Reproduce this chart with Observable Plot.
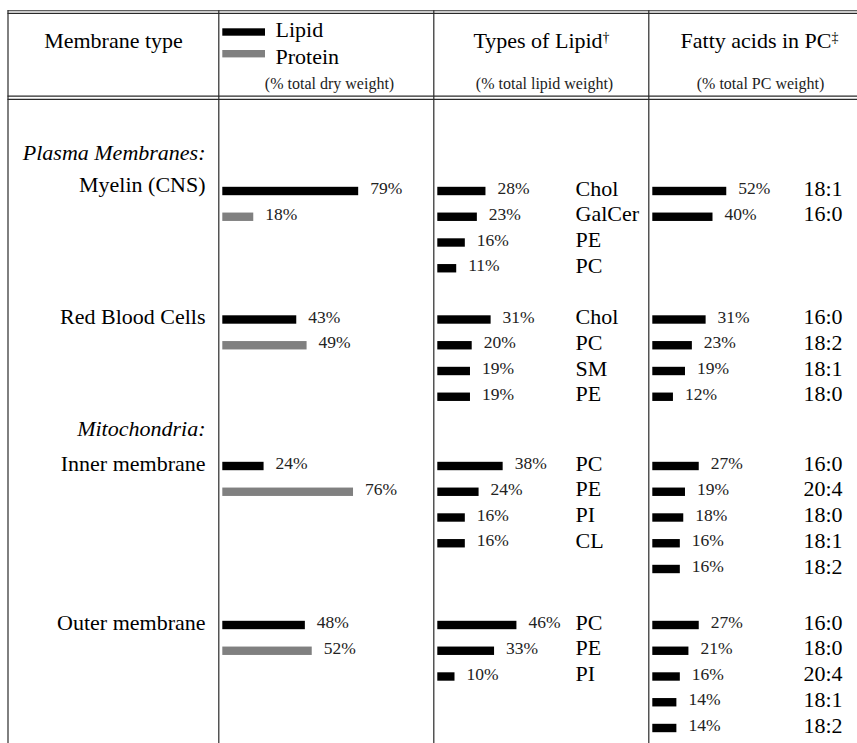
<!DOCTYPE html>
<html><head><meta charset="utf-8">
<script src="https://cdn.jsdelivr.net/npm/d3@7"></script>
<script src="https://cdn.jsdelivr.net/npm/@observablehq/plot@0.6"></script>
<style>html,body{margin:0;padding:0;background:#fff;} svg{display:block} svg text{font-family:"Liberation Serif","Times New Roman",serif !important;}</style>
</head><body><div id="chart"></div>
<script>
// ---------------- data ----------------
const membranes = ["Myelin (CNS)", "Red Blood Cells", "Inner membrane", "Outer membrane"];
const sectionTitles = ["Plasma Membranes:", "Mitochondria:"];
const sectionStartsAt = [0, 2];
const lipidPct = [79, 43, 24, 48];
const proteinPct = [18, 49, 76, 52];
const lipidTypeNames = [["Chol", "GalCer", "PE", "PC"], ["Chol", "PC", "SM", "PE"], ["PC", "PE", "PI", "CL"], ["PC", "PE", "PI"]];
const lipidTypePct = [[28, 23, 16, 11], [31, 20, 19, 19], [38, 24, 16, 16], [46, 33, 10]];
const fattyAcidNames = [["18:1", "16:0"], ["16:0", "18:2", "18:1", "18:0"], ["16:0", "20:4", "18:0", "18:1", "18:2"], ["16:0", "18:0", "20:4", "18:1", "18:2"]];
const fattyAcidPct = [[52, 40], [31, 23, 19, 12], [27, 19, 18, 16, 16], [27, 21, 16, 14, 14]];
// bar lengths as drawn in the picture (myelin bars are drawn shorter than their labels)
const fattyAcidBarPct = [[43, 35], [31, 23, 19, 12], [27, 19, 18, 16, 16], [27, 21, 16, 14, 14]];
const legendNames = ["Lipid", "Protein"];
const headers = ["Membrane type", "Types of Lipid\u2020", "Fatty acids in PC\u2021"];
const captions = ["(% total dry weight)", "(% total lipid weight)", "(% total PC weight)"];

// ---------------- layout ----------------
const W = 857, H = 743, PX = 1.72;          // pixels per percent
const u = p => p / PX;                       // pixel -> x units
const colEdges = [7.5, 218.3, 433.3, 648.3];
const barStart = [colEdges[1] + 4, colEdges[2] + 4, colEdges[3] + 4];
const groupTop = [191, 319.5, 466, 625];
const STEP = 25.75, BH = 8.4, GAP = 11.5, TXT = -3;
const membraneLabelY = [184, 316.5, 463.5, 622];
const sectionY = [152, 428];
const labelRight = 205, lipidNameX = 575, fattyNameX = 803;
const hLines = [10.3, 12.9, 95.6, 98.9];
const BLACK = "#000", GRAY = "#808080", LINE = "#2a2a2a";
const FONT = "Liberation Serif, Times New Roman, serif";

const bars = [], pctLabels = [], names = [];
membranes.forEach((m, k) => {
  [[lipidPct[k], BLACK], [proteinPct[k], GRAY]].forEach(([v, c], i) => {
    const y = groupTop[k] + i * STEP;
    bars.push({x1: u(barStart[0]), x2: u(barStart[0]) + v, y, fill: c});
    pctLabels.push({x: u(barStart[0]) + v, y, t: v + "%"});
  });
  lipidTypePct[k].forEach((v, j) => {
    const y = groupTop[k] + j * STEP;
    bars.push({x1: u(barStart[1]), x2: u(barStart[1]) + v, y, fill: BLACK});
    pctLabels.push({x: u(barStart[1]) + v, y, t: v + "%"});
    names.push({x: u(lipidNameX), y, t: lipidTypeNames[k][j]});
  });
  fattyAcidPct[k].forEach((v, j) => {
    const y = groupTop[k] + j * STEP;
    const len = fattyAcidBarPct[k][j];
    bars.push({x1: u(barStart[2]), x2: u(barStart[2]) + len, y, fill: BLACK});
    pctLabels.push({x: u(barStart[2]) + len, y, t: v + "%"});
    names.push({x: u(fattyNameX), y, t: fattyAcidNames[k][j]});
  });
});

const legendItems = legendNames.map((n, i) => ({n, fill: i ? GRAY : BLACK, yb: [32, 53.7][i], yt: [29, 56][i]}));
const headerItems = headers.map((h, i) => ({h, x: [113, 541, 759][i], y: [40, 40.8, 40.5][i]}));
const captionItems = captions.map((c, i) => ({c, x: [329, 544, 760][i], y: 83}));

const chart = Plot.plot({
  width: W, height: H, margin: 0,
  x: {domain: [0, W / PX], range: [0, W], axis: null},
  y: {domain: [0, H], range: [0, H], axis: null},
  style: {fontFamily: FONT, background: "#fff", color: "#000"},
  marks: [
    Plot.ruleY(hLines, {y: d => d, x1: () => u(colEdges[0]), x2: () => u(W), stroke: LINE, strokeWidth: 1.1}),
    Plot.ruleX(colEdges, {x: d => u(d), y1: () => hLines[0], y2: () => H, stroke: LINE, strokeWidth: 1.2}),
    // header
    Plot.text(headerItems, {x: d => u(d.x), y: "y", text: "h", fontFamily: FONT, fontSize: 22, textAnchor: "middle"}),
    Plot.text(captionItems, {x: d => u(d.x), y: "y", text: "c", fontFamily: FONT, fontSize: 16, fill: "#222", textAnchor: "middle"}),
    Plot.rect(legendItems.filter(d => d.fill === BLACK), {x1: () => u(barStart[0]), x2: () => u(265), y1: d => d.yb - 3.7, y2: d => d.yb + 3.7, fill: BLACK}),
    Plot.rect(legendItems.filter(d => d.fill === GRAY), {x1: () => u(barStart[0]), x2: () => u(265), y1: d => d.yb - 3.7, y2: d => d.yb + 3.7, fill: GRAY}),
    Plot.text(legendItems, {x: () => u(275), y: "yt", text: "n", fontFamily: FONT, fontSize: 22, textAnchor: "start"}),
    // row labels
    Plot.text(sectionTitles, {x: () => u(labelRight), y: (d, i) => sectionY[i], text: d => d, fontFamily: FONT, fontSize: 22, fontStyle: "italic", textAnchor: "end"}),
    Plot.text(membranes, {x: () => u(labelRight), y: (d, i) => membraneLabelY[i], text: d => d, fontFamily: FONT, fontSize: 22, textAnchor: "end"}),
    // bars
    Plot.rect(bars.filter(d => d.fill === BLACK), {x1: "x1", x2: "x2", y1: d => d.y - BH / 2, y2: d => d.y + BH / 2, fill: BLACK}),
    Plot.rect(bars.filter(d => d.fill === GRAY), {x1: "x1", x2: "x2", y1: d => d.y - BH / 2, y2: d => d.y + BH / 2, fill: GRAY}),
    Plot.text(pctLabels, {x: "x", y: d => d.y + TXT, text: "t", dx: GAP, fontFamily: FONT, fontSize: 17.5, fill: "#222", textAnchor: "start"}),
    Plot.text(names, {x: "x", y: d => d.y + TXT, text: "t", fontFamily: FONT, fontSize: 22, textAnchor: "start"})
  ]
});

// superscript daggers
chart.querySelectorAll("text").forEach(t => {
  const s = t.textContent;
  if (/[\u2020\u2021]$/.test(s) && t.children.length === 0) {
    const mark = s.slice(-1);
    t.textContent = s.slice(0, -1);
    const ts = document.createElementNS("http://www.w3.org/2000/svg", "tspan");
    ts.setAttribute("dy", "-0.45em");
    ts.setAttribute("font-size", "14");
    ts.textContent = mark;
    t.appendChild(ts);
  }
});
document.getElementById("chart").appendChild(chart);
</script>
</body></html>
